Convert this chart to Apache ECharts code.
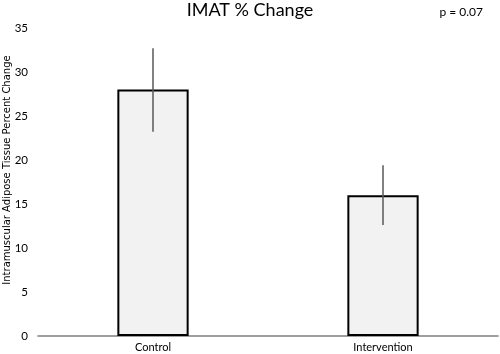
<!DOCTYPE html>
<html><head><meta charset="utf-8">
<script src="https://cdn.jsdelivr.net/npm/echarts@6/dist/echarts.min.js"></script>
<style>html,body{margin:0;padding:0;background:#fff}#c{width:500px;height:354px}</style>
</head><body><div id="c"></div>
<script>
const categories = ['Control', 'Intervention'];
const means = [28, 16];
const errUpper = [32.7, 19.4];
const errLower = [23.2, 12.6];
const yTicks = [0, 5, 10, 15, 20, 25, 30, 35];

const chart = echarts.init(document.getElementById('c'));
const font = 'Lato, "Noto Sans", sans-serif';
chart.setOption({
  animation: false,
  title: [
    { text: 'IMAT % Change', left: 'center', top: -4, textStyle: { fontFamily: font, fontWeight: 'normal', fontSize: 18, color: '#000' } },
    { text: 'p = 0.07', right: 12, top: 1, textStyle: { fontFamily: font, fontWeight: 'normal', fontSize: 12, color: '#000' } }
  ],
  grid: { left: 38, right: 2, top: 28, bottom: 18, outerBoundsMode: 'none' },
  xAxis: {
    type: 'category', data: categories,
    axisLine: { lineStyle: { color: '#7f7f7f', width: 1.5 } },
    axisTick: { show: false },
    axisLabel: { fontFamily: font, fontSize: 11, color: '#000', margin: 6 }
  },
  yAxis: {
    type: 'value', min: yTicks[0], max: yTicks[yTicks.length - 1], interval: 5,
    name: 'Intramuscular Adipose Tissue Percent Change', nameLocation: 'middle', nameGap: 26,
    nameMoveOverlap: false,
    nameTextStyle: { fontFamily: '"DejaVu Sans", sans-serif', fontSize: 10, color: '#000', padding: [0, 0, 0, 24] },
    axisLine: { show: false }, axisTick: { show: false },
    splitLine: { show: false },
    axisLabel: { fontFamily: font, fontSize: 11.5, color: '#000', margin: 10 }
  },
  series: [
    {
      type: 'bar', data: means, barWidth: '31%',
      itemStyle: { color: '#f2f2f2', borderColor: '#000', borderWidth: 2 }
    },
    {
      type: 'custom',
      data: categories.map((c, i) => [i, errLower[i], errUpper[i]]),
      renderItem: function (params, api) {
        const lo = api.coord([api.value(0), api.value(1)]);
        const hi = api.coord([api.value(0), api.value(2)]);
        return { type: 'line', shape: { x1: lo[0], y1: lo[1], x2: hi[0], y2: hi[1] }, style: { stroke: '#595959', lineWidth: 1.5 } };
      },
      z: 10
    }
  ]
});
</script></body></html>
